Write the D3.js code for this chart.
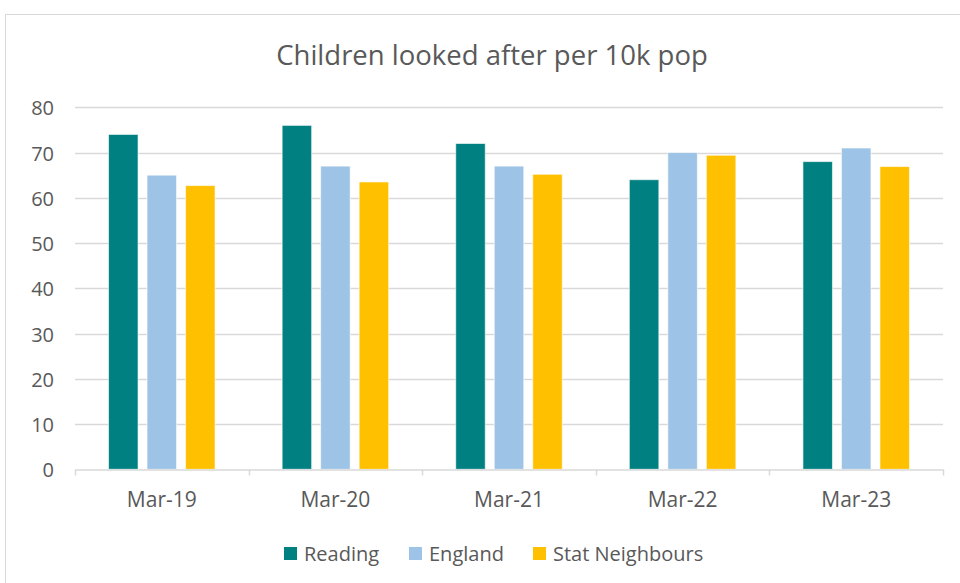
<!DOCTYPE html>
<html><head><meta charset="utf-8">
<script src="https://cdn.jsdelivr.net/npm/d3@7"></script>
<style>body{margin:0;background:#fff}svg{display:block}</style>
</head><body><svg id="c" width="960" height="583"></svg>
<script>
const categories = ["Mar-19","Mar-20","Mar-21","Mar-22","Mar-23"];
const seriesNames = ["Reading","England","Stat Neighbours"];
const reading = [74, 76, 72, 64, 68];
const england = [65, 67, 67, 70, 71];
const statNeighbours = [62.7, 63.5, 65.2, 69.4, 66.9];
const yTicks = [0,10,20,30,40,50,60,70,80];
const colors = ["#008080","#9DC3E6","#FFC000"];
const values = [reading, england, statNeighbours];

const svg = d3.select("#c");
const font = "'Open Sans', Lato, sans-serif";
const txt = "#595959";

svg.append("rect").attr("x",5.5).attr("y",14.5).attr("width",1000).attr("height",600)
  .attr("fill","#fff").attr("stroke","#D9D9D9").attr("stroke-width",1);

svg.append("text").attr("x",492).attr("y",65).attr("text-anchor","middle")
  .attr("font-family",font).attr("font-size",27.5).attr("fill",txt)
  .text("Children looked after per 10k pop");

const x = d3.scaleBand().domain(categories).range([75,943]);
const x1 = d3.scaleBand().domain(seriesNames).range([0,x.bandwidth()]).paddingInner(0.234).paddingOuter(0.871);
const y = d3.scaleLinear().domain([0,80]).range([469.3,107.3]);

// gridlines
svg.append("g").selectAll("line").data(yTicks.filter(d=>d>0)).join("line")
  .attr("x1",75).attr("x2",943).attr("y1",d=>Math.round(y(d))+0.5).attr("y2",d=>Math.round(y(d))+0.5)
  .attr("stroke","#D9D9D9").attr("stroke-width",1.5);

// y labels
const yAxis = d3.axisLeft(y).tickValues(yTicks).tickSize(0).tickPadding(0);
const ga = svg.append("g").attr("transform","translate(54,0)").call(yAxis);
ga.select(".domain").remove();
ga.selectAll("text").attr("font-family",font).attr("font-size",20).attr("fill",txt).attr("dy","0.38em");

// bars
const groups = svg.append("g").selectAll("g").data(seriesNames).join("g").attr("fill",(d,i)=>colors[i]);
groups.selectAll("rect").data((s,i)=>categories.map((c,j)=>({s,c,v:values[i][j]}))).join("rect")
  .attr("x",d=>x(d.c)+x1(d.s)).attr("width",x1.bandwidth())
  .attr("y",d=>y(d.v)).attr("height",d=>y(0)-y(d.v))
  .attr("stroke","#ffffff").attr("stroke-opacity",0.6).attr("stroke-width",1);

// x axis
const xAxis = d3.axisBottom(x).tickSize(0).tickPadding(0);
const gx = svg.append("g").attr("transform",`translate(0,${Math.round(y(0))+0.5})`).call(xAxis);
gx.select(".domain").attr("stroke","#D9D9D9").attr("stroke-width",1.5);
gx.selectAll("text").attr("font-family",font).attr("font-size",21).attr("fill",txt).attr("dy","1.8em");
const bounds = categories.map(c=>x(c)).concat([x.range()[1]]);
gx.append("g").selectAll("line").data(bounds).join("line")
  .attr("x1",d=>Math.round(d)+0.5).attr("x2",d=>Math.round(d)+0.5).attr("y1",0).attr("y2",6)
  .attr("stroke","#D9D9D9").attr("stroke-width",1.5);

// legend
const legendX = [284, 409, 533];
const lg = svg.append("g").selectAll("g").data(seriesNames).join("g")
  .attr("transform",(d,i)=>`translate(${legendX[i]},547)`);
lg.append("rect").attr("width",13).attr("height",13).attr("fill",(d,i)=>colors[i]);
lg.append("text").attr("x",20).attr("y",13.5).attr("font-family",font).attr("font-size",20).attr("fill",txt).text(d=>d);
</script></body></html>
